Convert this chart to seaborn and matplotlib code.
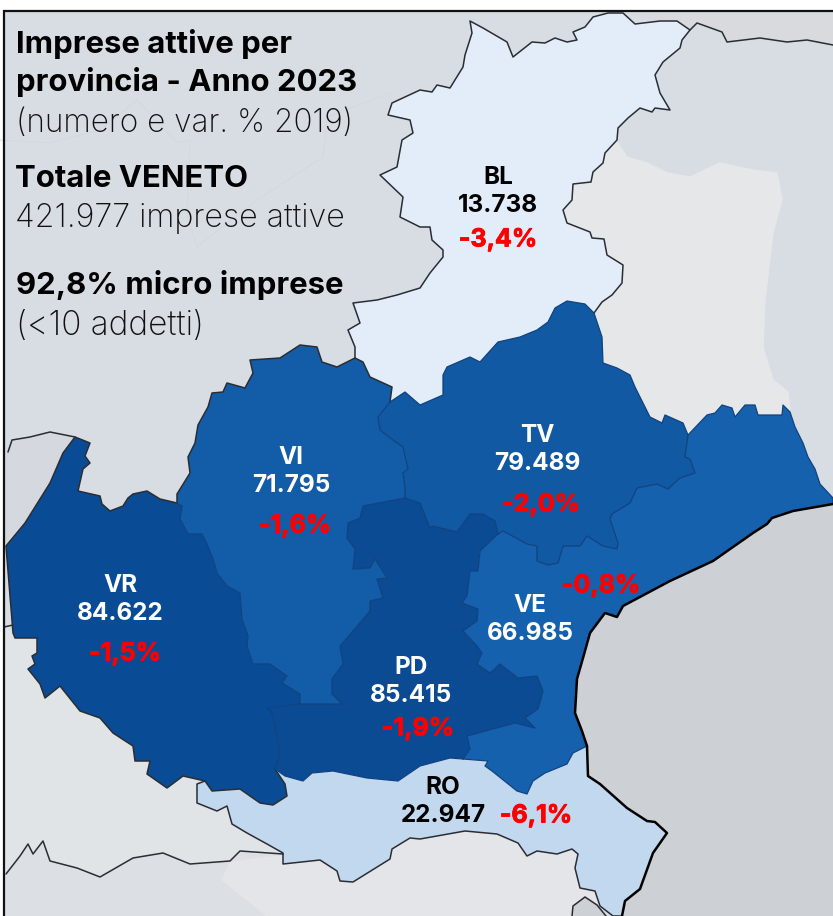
import matplotlib
matplotlib.use("Agg")
import matplotlib.pyplot as plt
import matplotlib.patheffects as pe
import pandas as pd
import seaborn as sb

# province data
province = ["BL", "TV", "VI", "VR", "PD", "VE", "RO"]
imprese = ["13.738", "79.489", "71.795", "84.622", "85.415", "66.985", "22.947"]
variazione = ["-3,4%", "-2,0%", "-1,6%", "-1,5%", "-1,9%", "-0,8%", "-6,1%"]
fill_colors = ["#E3EDF9", "#1259A3", "#135DA8", "#094C95", "#0A4B93", "#1661AD", "#C2D8EF"]
text_colors = ["black", "white", "white", "white", "white", "white", "black"]

bl_north = [(594, 313), (602, 302), (612, 295), (622, 283), (623, 265), (607, 255), (604, 239), (592, 238),
            (590, 232), (567, 223), (563, 210), (572, 200), (573, 184), (591, 182), (593, 172), (603, 163),
            (605, 153), (617, 140), (618, 128), (628, 118), (640, 108), (652, 112), (655, 108), (670, 110),
            (660, 93), (655, 75), (663, 62), (680, 48), (682, 40), (690, 30), (677, 21), (660, 21), (635, 24),
            (623, 13), (608, 13), (593, 17), (585, 27), (573, 32), (577, 40), (567, 42), (555, 38), (545, 43),
            (532, 42), (513, 57), (507, 42), (483, 28), (470, 21), (472, 33), (465, 55), (463, 67), (450, 88),
            (437, 85), (432, 92), (420, 90), (392, 103), (388, 115), (410, 120), (413, 133), (402, 140),
            (397, 167), (380, 175), (403, 197), (400, 217), (420, 227), (430, 227), (432, 240), (443, 250),
            (443, 257), (430, 273), (420, 288), (397, 295), (377, 300), (353, 303), (360, 323), (348, 330),
            (355, 347), (355, 358)]
bl_vi = [(355, 358), (363, 362), (370, 377), (392, 387), (390, 402)]
bl_tv = [(390, 402), (405, 392), (420, 405), (443, 395), (443, 375), (447, 367), (470, 357), (480, 362),
         (498, 342), (520, 337), (537, 330), (548, 322), (555, 308), (567, 301), (585, 304), (594, 313)]
vi_tv = [(390, 402), (378, 417), (380, 430), (393, 440), (403, 447), (405, 456), (408, 469), (403, 473),
         (405, 488), (405, 498)]
tv_pd = [(405, 498), (420, 503), (430, 528), (433, 526), (457, 532), (470, 514), (483, 514), (495, 521), (498, 534)]
tv_ve = [(498, 534), (503, 531), (527, 544), (537, 546), (537, 561), (548, 565), (558, 563), (563, 546), (580, 546),
         (587, 536), (603, 546), (617, 549), (618, 543), (610, 519), (612, 514), (630, 503), (637, 488), (657, 484),
         (668, 489), (680, 478), (695, 473), (690, 459), (685, 457), (688, 435)]
tv_east = [(688, 435), (683, 423), (665, 415), (662, 423), (650, 417), (643, 403), (635, 387), (630, 375),
           (617, 368), (603, 363), (602, 337), (594, 313)]
ve_north = [(688, 435), (707, 415), (715, 413), (722, 405), (732, 408), (735, 417), (745, 405), (755, 405),
            (758, 415), (782, 415), (783, 405), (790, 412), (795, 427), (803, 443), (808, 457), (815, 469),
            (820, 484), (833, 498), (833, 504)]
ve_coast = [(833, 504), (793, 511), (772, 518), (767, 524), (753, 533), (713, 561), (670, 581), (623, 606),
            (617, 617), (605, 613), (590, 633), (583, 658), (577, 679), (575, 713), (582, 731), (587, 746)]
ve_ro = [(587, 746), (573, 753), (567, 764), (545, 773), (533, 781), (527, 794), (517, 791), (492, 771),
         (485, 766), (488, 761), (463, 759)]
pd_ve = [(498, 534), (480, 551), (478, 571), (470, 571), (467, 596), (462, 603), (478, 609), (477, 621),
         (463, 631), (477, 646), (482, 653), (477, 664), (490, 673), (500, 664), (518, 678), (537, 676),
         (543, 691), (538, 709), (525, 718), (535, 728), (515, 723), (467, 736), (470, 749), (463, 759)]
pd_ro = [(463, 759), (450, 758), (420, 766), (398, 781), (367, 778), (333, 771), (312, 773), (303, 781),
         (285, 776), (275, 769)]
vr_pd = [(275, 769), (280, 753), (272, 713), (267, 708), (300, 704)]
vi_pd = [(300, 704), (312, 704), (342, 704), (332, 694), (332, 679), (343, 664), (340, 646), (353, 631),
         (370, 611), (370, 601), (383, 598), (377, 579), (387, 578), (375, 559), (370, 568), (353, 569),
         (355, 549), (347, 538), (348, 523), (360, 518), (363, 506), (405, 498)]
vr_vi = [(300, 704), (300, 694), (282, 683), (287, 676), (270, 664), (253, 664), (247, 646), (248, 636),
         (242, 619), (240, 593), (227, 586), (217, 573), (213, 559), (207, 544), (202, 534), (188, 534),
         (180, 519), (182, 506), (177, 503)]
vi_north = [(177, 503), (177, 494), (190, 473), (188, 457), (195, 443), (198, 425), (208, 407), (212, 393),
            (223, 392), (227, 383), (245, 388), (253, 373), (250, 360), (280, 358), (300, 345), (317, 347),
            (322, 362), (337, 367), (355, 358)]
vr_west = [(177, 503), (160, 499), (147, 491), (133, 494), (128, 498), (123, 506), (110, 511), (102, 504),
           (100, 496), (78, 491), (83, 469), (90, 463), (85, 456), (90, 443), (75, 437), (63, 453), (50, 483),
           (25, 523), (6, 546), (13, 633), (15, 638), (37, 638), (37, 653), (32, 656), (35, 664), (28, 669),
           (40, 684), (45, 698), (60, 686), (80, 711), (100, 718), (113, 733), (133, 746), (135, 761), (150, 761),
           (147, 774), (167, 788), (183, 776), (205, 781)]
vr_ro = [(205, 781), (212, 791), (240, 789), (260, 803), (273, 805), (287, 796), (285, 784), (275, 769)]
ro_coast = [(587, 746), (588, 776), (600, 784), (627, 808), (647, 821), (655, 822), (667, 833), (653, 853),
            (640, 889), (625, 901), (622, 916)]
ro_south = [(622, 916), (613, 916), (600, 906), (595, 891), (580, 888), (575, 868), (578, 854), (572, 849),
            (557, 854), (537, 851), (527, 856), (518, 843), (497, 834), (465, 831), (420, 839), (410, 838),
            (392, 849), (390, 859), (353, 882), (340, 881), (337, 871), (320, 860), (283, 864), (283, 853),
            (267, 844), (247, 833), (232, 824), (227, 806), (217, 811), (197, 803), (197, 784), (205, 781)]
south_line = [(6, 874), (20, 856), (28, 844), (33, 854), (43, 841), (50, 861), (77, 868), (100, 877), (133, 858),
              (163, 853), (190, 864), (230, 861), (240, 851), (283, 854)]
austria_line = [(690, 30), (697, 23), (722, 32), (727, 42), (760, 38), (787, 42), (807, 40), (833, 45)]
lake_line = [(8, 452), (12, 440), (30, 437), (50, 432), (75, 437)]
po_mouth = [(572, 916), (573, 906), (585, 897), (597, 905), (606, 916)]
friuli_west = [(617, 142), (627, 157), (647, 163), (667, 173), (690, 177), (720, 163), (753, 170), (777, 173),
               (782, 200), (773, 233), (765, 300), (763, 347), (773, 380), (788, 392), (790, 410)]
trento_line = [(0, 140), (50, 143), (100, 130), (137, 100), (177, 143), (190, 140), (187, 213), (197, 247),
               (257, 200), (323, 157), (327, 117), (390, 93)]


def rev(seg):
    return seg[::-1]


shapes = {
    "BL": bl_north + bl_vi + bl_tv,
    "TV": rev(vi_tv) + bl_tv[1:] + rev(tv_east)[1:] + rev(tv_ve)[1:] + rev(tv_pd)[1:],
    "VI": rev(bl_vi) + rev(vi_north)[1:] + rev(vr_vi)[1:] + vi_pd[1:] + rev(vi_tv)[1:],
    "VR": vr_west + vr_ro + vr_pd + vr_vi[1:],
    "PD": vi_pd + tv_pd[1:] + pd_ve[1:] + pd_ro[1:] + vr_pd[1:],
    "VE": tv_ve + ve_north[1:] + ve_coast[1:] + ve_ro[1:] + rev(pd_ve)[1:],
    "RO": ro_coast + ro_south[1:] + vr_ro[1:] + rev(pd_ro)[1:] + rev(ve_ro)[1:],
}

sb.set_theme(style="white")
plt.rcParams["font.family"] = ["Inter", "DejaVu Sans"]

fig = plt.figure(figsize=(8.33, 9.16), dpi=100, facecolor="white")
ax = fig.add_axes([0, 0, 1, 1])
ax.set_xlim(0, 833)
ax.set_ylim(916, 0)
ax.axis("off")

# background land and sea
ax.fill([4, 833, 833, 4], [11, 11, 916, 916], color="#D8DDE4", zorder=0)
ax.fill(*zip(*(austria_line + [(833, 11), (620, 11)])), color="#D9DADD", zorder=1)
ax.fill(*zip(*(friuli_west + rev(ve_north[:11]) + tv_east + bl_north[1:18])), color="#E6E7E9", zorder=1)
ax.fill(*zip(*([(4, 628)] + vr_west[19:] + rev(ro_south[23:])[1:] + rev(south_line) + [(4, 878)])),
        color="#E0E4E7", zorder=1)
ax.fill(*zip(*(south_line[-3:] + rev(ro_south[2:23]) + [(600, 916), (265, 916), (220, 880)])), color="#E3E5E8", zorder=1)
ax.fill(*zip(*([(4, 878)] + south_line + [(230, 861), (220, 880), (265, 916), (4, 916)])), color="#DCE0E5", zorder=1)
ax.fill(*zip(*([(4, 452)] + lake_line + [(63, 453), (50, 483), (25, 523), (6, 546), (4, 546)])), color="#D5D8DE", zorder=1)
ax.fill(*zip(*(ve_coast + ro_coast[1:] + [(833, 916)])), color="#CDD1D6", zorder=1)
ax.fill(*zip(*po_mouth), color="#CDD1D6", zorder=1)
ax.plot(*zip(*trento_line), color="#D3D8DF", lw=0.6, zorder=1)

for name, color in zip(province, fill_colors):
    ax.fill(*zip(*shapes[name]), facecolor=color, edgecolor="none", zorder=2)


def outline(seg, color, width, z=3):
    d = pd.DataFrame(seg, columns=["x", "y"])
    sb.lineplot(data=d, x="x", y="y", sort=False, estimator=None, color=color, lw=width, ax=ax, legend=False, zorder=z)


for seg in [bl_north, ro_south, vr_west, vi_north, bl_vi, vr_ro, south_line, austria_line, lake_line, po_mouth]:
    outline(seg, "#2A2D33", 1.1)
outline([(4, 627), (13, 625)], "#2A2D33", 1.1)
for seg in [bl_tv, vi_tv, tv_pd, tv_ve, tv_east, ve_north, ve_ro, pd_ve, pd_ro, vr_pd, vi_pd, vr_vi]:
    outline(seg, "#10427F", 0.9)
for seg in [ve_coast, ro_coast]:
    outline(seg, "black", 1.8)
ax.set_xlim(0, 833)
ax.set_ylim(916, 0)
ax.set_xlabel("")
ax.set_ylabel("")

# frame, top and left only
ax.plot([4, 4, 833], [916, 11, 11], color="#111111", lw=1.6, zorder=6, solid_joinstyle="miter")

# province labels
label_x = [498, 537, 291, 120, 411, 530, 443]
label_y = [177, 435, 458, 585, 667, 606, 787]
pct_x = [498, 541, 295, 125, 418, 601, 536]
pct_y = [240, 505, 526, 654, 729, 586, 816]
thick = [pe.withStroke(linewidth=0.6, foreground="#FF0000")]
for i, name in enumerate(province):
    c = text_colors[i]
    ax.text(label_x[i], label_y[i], name, ha="center", va="center", fontsize=17.5, color=c, weight="bold", zorder=7)
    ax.text(label_x[i], label_y[i] + 28, imprese[i], ha="center", va="center", fontsize=17.5, color=c, weight="bold", zorder=7)
    ax.text(pct_x[i], pct_y[i], variazione[i], ha="center", va="center", fontsize=18, color="#FF0000", weight="bold",
            zorder=7, path_effects=thick)

# header text
ax.text(16, 44, "Imprese attive per", fontsize=22.4, weight="bold", va="center", color="black", zorder=7)
ax.text(16, 82, "provincia - Anno 2023", fontsize=22.4, weight="bold", va="center", color="black", zorder=7)
ax.text(16, 123, "(numero e var. % 2019)", fontsize=22.7, weight="light", va="center", color="#111111", zorder=7)
ax.text(15, 179, "Totale VENETO", fontsize=22.4, weight="bold", va="center", color="black", zorder=7)
ax.text(15, 218, "421.977 imprese attive", fontsize=23.2, weight="light", va="center", color="#111111", zorder=7)
ax.text(16, 285, "92,8% micro imprese", fontsize=22.4, weight="bold", va="center", color="black", zorder=7)
ax.text(16, 326, "(<10 addetti)", fontsize=24, weight="light", va="center", color="#111111", zorder=7)

fig.savefig("out.png", dpi=100, facecolor="white")
